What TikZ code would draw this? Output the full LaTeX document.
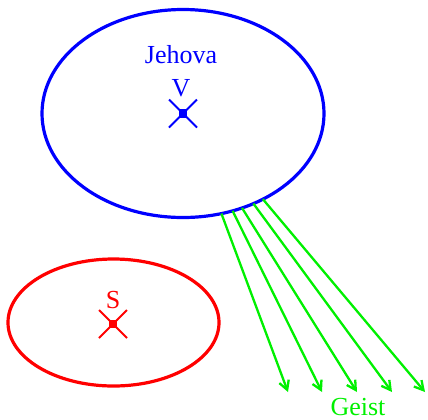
\documentclass[tikz,border=0pt]{standalone}
\usepackage{fontspec}
\setmainfont{Liberation Serif}
\usepackage{tikz}
\usetikzlibrary{shapes.geometric,arrows.meta}
\definecolor{gottblue}{RGB}{0, 0, 255}
\definecolor{sohnred}{RGB}{255, 0, 0}
\definecolor{geistgreen}{RGB}{0, 240, 0}

\begin{document}
\begin{tikzpicture}[x=0.5pt, y=-0.5pt]
\tikzset{
  person/.style={ellipse, inner sep=0pt, outer sep=0pt, line width=1.6pt},
  dotmark/.style={rectangle, inner sep=0pt, minimum size=4.2pt},
  cross/.style={line width=1pt},
  lbl/.style={font=\fontsize{13}{15}\selectfont, inner sep=0pt},
  ray/.style={draw=geistgreen, line width=1.15pt, -{Straight Barb[length=4.5pt, width=5pt, line width=1.15pt]}}
}
\useasboundingbox (0,0) rectangle (428,419);
\node[person, draw=gottblue, minimum width=141pt, minimum height=104pt] (vaterell) at (183,113.5) {};
\node[person, draw=sohnred, minimum width=105.5pt, minimum height=63.5pt] (sohnell) at (113.5,322.5) {};
\node[lbl, text=gottblue] (jehova) at (181,55) {Jehova};
\node[lbl, text=gottblue] (vlbl) at (181,88) {V};
\node[lbl, text=sohnred] (slbl) at (113,300) {S};
\node[lbl, text=geistgreen] (geist) at (358,407) {Geist};
\node[dotmark, fill=gottblue] (vpt) at (183,113.5) {};
\node[dotmark, fill=sohnred] (spt) at (113,324) {};
\draw[cross, gottblue] (vpt.center) ++(-14,-14) -- ++(28,28) (vpt.center) ++(14,-14) -- ++(-28,28);
\draw[cross, sohnred] (spt.center) ++(-14,-14) -- ++(28,28) (spt.center) ++(14,-14) -- ++(-28,28);
\foreach \ang/\xend [count=\i] in {-69/288, -63.5/322, -58/357, -52.6/392, -47.8/425} {
  \coordinate (ziel\i) at (\xend,392);
  \draw[ray] (vaterell.\ang) -- (ziel\i);
}
\end{tikzpicture}
\end{document}
